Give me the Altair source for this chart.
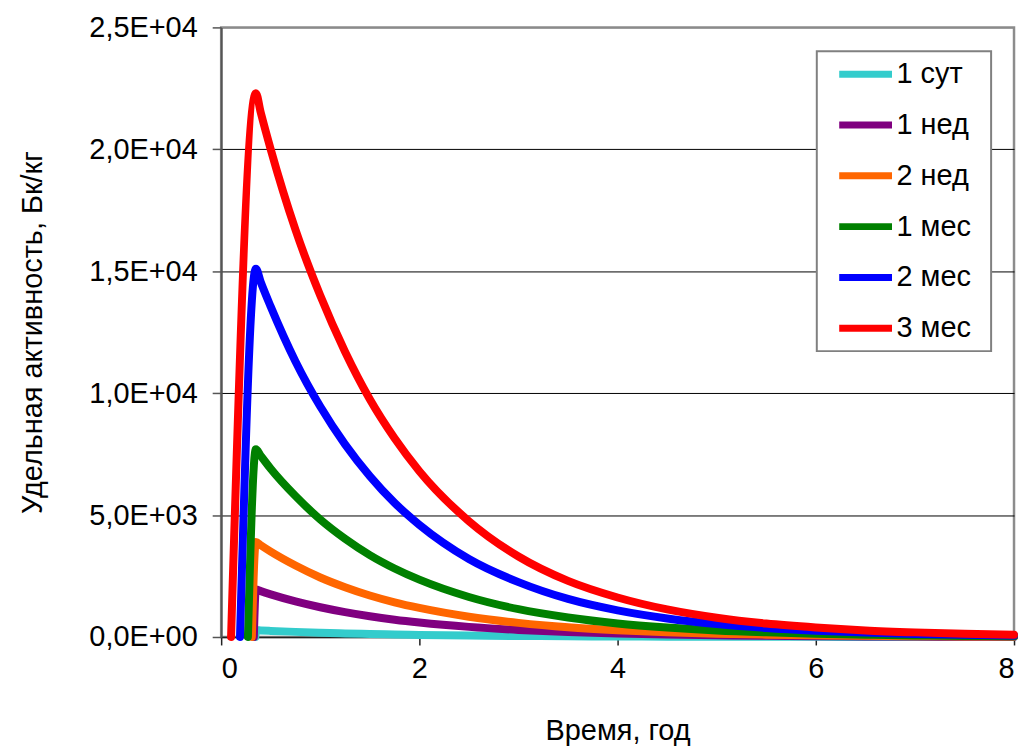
import altair as alt
import pandas as pd

# ---- data ----
series = ["1 сут", "1 нед", "2 нед", "1 мес", "2 мес", "3 мес"]
colors = ["#33CCCC", "#800080", "#FF6600", "#008000", "#0000FF", "#FF0000"]

# time (years) at which each series starts rising from zero
start_x = [0.345, 0.33, 0.31, 0.27, 0.19, 0.10]

# time points from the peak onwards
decay_x = [0.35, 0.4, 0.5, 0.75, 1.0, 1.25, 1.5, 1.75, 2.0, 2.5, 3.0, 3.5, 4.0,
           4.5, 5.0, 5.5, 6.0, 6.5, 7.0, 7.5, 8.0]

v_1sut = [280, 270, 250, 210, 175, 146, 122, 102, 85, 60, 41, 29, 20,
          14, 10, 7, 5, 3, 2, 2, 1]
v_1ned = [1950, 1880, 1750, 1460, 1220, 1020, 850, 710, 595, 415, 290, 200, 140,
          98, 69, 48, 33, 23, 16, 11, 8]
v_2ned = [3900, 3760, 3500, 2930, 2440, 2040, 1700, 1420, 1190, 830, 580, 400, 280,
          197, 137, 96, 67, 46, 32, 23, 16]
v_1mes = [7700, 7430, 6900, 5780, 4820, 4030, 3360, 2810, 2350, 1640, 1140, 800, 555,
          390, 270, 190, 130, 92, 64, 45, 31]
v_2mes = [15100, 14550, 13550, 11300, 9450, 7900, 6600, 5500, 4600, 3200, 2250, 1560, 1090,
          760, 530, 370, 260, 180, 125, 88, 61]
v_3mes = [22300, 21500, 20000, 16700, 14000, 11700, 9750, 8150, 6800, 4750, 3300, 2300, 1620,
          1130, 790, 550, 390, 270, 190, 130, 90]

values = [v_1sut, v_1ned, v_2ned, v_1mes, v_2mes, v_3mes]

y_ticks = [0, 5000, 10000, 15000, 20000, 25000]
x_ticks = [0, 2, 4, 6, 8]

rows = []
for i, (name, sx, vals) in enumerate(zip(series, start_x, values)):
    rows.append({"series": name, "ord": i, "t": sx, "v": 0})
    for t, v in zip(decay_x, vals):
        rows.append({"series": name, "ord": i, "t": t, "v": v})
df = pd.DataFrame(rows)

FONT = "Liberation Sans"
FS = 29

label_expr = (
    "datum.value == 0 ? '0,0E+00' : "
    "replace(format(datum.value / pow(10, floor(log(datum.value)/LN10 + 1e-9)), '.1f'), '.', ',')"
    " + 'E+' + (floor(log(datum.value)/LN10 + 1e-9) < 10 ? '0' : '')"
    " + floor(log(datum.value)/LN10 + 1e-9)"
)

lines = alt.Chart(df).mark_line(
    strokeWidth=8, strokeCap="round", strokeJoin="round", interpolate="monotone"
).encode(
    x=alt.X("t:Q",
            scale=alt.Scale(domain=[0, 8], nice=False, zero=False),
            axis=alt.Axis(values=x_ticks, title="Время, год", format="d",
                          grid=False, tickSize=8, labelPadding=10,
                          titleY=94, titleBaseline="middle",
                          domainColor="#222222", tickColor="#222222",
                          domainWidth=1.5, tickWidth=1.5)),
    y=alt.Y("v:Q",
            scale=alt.Scale(domain=[0, 25000], nice=False),
            axis=alt.Axis(values=y_ticks, title="Удельная активность, Бк/кг",
                          labelExpr=label_expr, grid=True,
                          gridColor={"expr": "datum.value >= 25000 ? '#8c8c8c' : (datum.value == 0 ? '#222222' : '#000000')"},
                          gridWidth=1, tickSize=9, labelPadding=15,
                          titleX=-189, titleY=306, titleAngle=-90,
                          titleBaseline="middle", titleAlign="center",
                          domainColor="#555555", tickColor="#555555",
                          domainWidth=2, tickWidth=1.5)),
    color=alt.Color("series:N",
                    scale=alt.Scale(domain=series, range=colors),
                    sort=series,
                    legend=alt.Legend(title=None, orient="none",
                                      legendX=617, legendY=17,
                                      symbolType="stroke", symbolSize=2809,
                                      symbolStrokeWidth=7,
                                      labelFontSize=FS, labelFont=FONT,
                                      labelColor="black", labelOffset=1,
                                      rowPadding=6, padding=0)),
    order=alt.Order("ord:Q"),
    detail="series:N",
)

# legend frame (decoration behind the legend entries)
frame = alt.Chart(pd.DataFrame({"k": [0]})).mark_rect(
    fill="white", stroke="#808080", strokeWidth=2
).encode(
    x=alt.value(598), x2=alt.value(773), y=alt.value(24), y2=alt.value(325)
)

chart = alt.layer(lines, frame).properties(
    width=796, height=612,
    autosize=alt.AutoSizeParams(type="none"),
    padding={"left": 214, "top": 18, "right": 5, "bottom": 118},
).configure(
    background="white"
).configure_view(
    stroke="#8c8c8c", strokeWidth=2.5
).configure_axis(
    labelFont=FONT, labelFontSize=FS, labelColor="black",
    titleFont=FONT, titleFontSize=FS, titleColor="black", titleFontWeight="normal",
)

chart.save("out.html", embed_options={"renderer": "svg", "actions": False})
